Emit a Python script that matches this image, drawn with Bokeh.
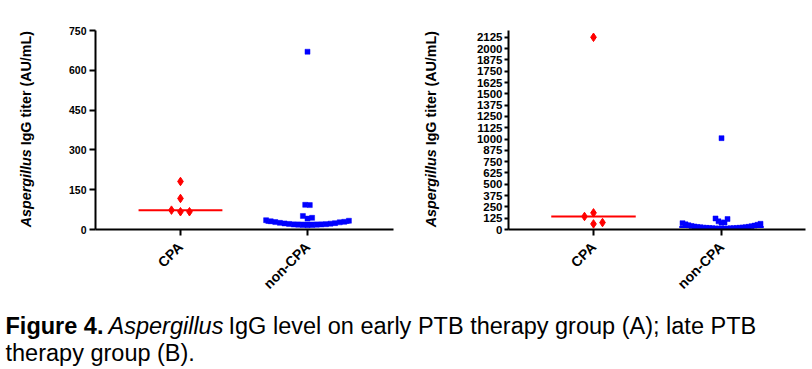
import numpy as np
from bokeh.plotting import figure
from bokeh.layouts import row, column
from bokeh.models import Range1d, FixedTicker, Label
from bokeh.embed import file_html
from bokeh.resources import INLINE

# ---------------- data ----------------
groups = ["CPA", "non-CPA"]

early_cpa = [181, 117, 73, 67, 67]
early_noncpa = [670, 93, 92, 51, 44, 41, 35, 33, 31, 29, 28, 27, 25, 24, 23,
                22, 21, 20, 19, 19, 18, 18, 17, 17, 16]

late_cpa = [2125, 184, 144, 77, 62]
late_noncpa = [1010, 122, 116, 90, 78, 75, 70, 63, 57, 52, 47, 43, 39, 36, 33,
               30, 28, 26, 24, 22, 20, 19, 18, 17, 16, 15, 14, 13, 12, 11, 10, 9, 8]

early_yticks = [0, 150, 300, 450, 600, 750]
late_yticks = list(range(0, 2126, 125))

y_label_italic = "Aspergillus"
y_label_rest = "IgG titer (AU/mL)"

caption_bold = "Figure 4."
caption_italic = "Aspergillus"
caption_rest1 = "IgG level on early PTB therapy group (A); late PTB"
caption_line2 = "therapy group (B)."

FONT = "Liberation Sans"
RED = "#ff0000"
BLUE = "#0000ff"

TOP = 30
FRAME_H = 199
BOTTOM = 68
ROW_H = TOP + FRAME_H + BOTTOM


def swarm(values, bin_h, step):
    """GraphPad-like column scatter: values within a bin spread sideways."""
    v = np.sort(np.asarray(values, dtype=float))
    offs = np.zeros(len(v))
    i = 0
    while i < len(v):
        j = i
        while j < len(v) and v[j] - v[i] < bin_h:
            j += 1
        n = j - i
        for k in range(n):
            if n % 2 == 1:
                m = (k + 1) // 2
                sgn = 1 if k % 2 == 1 else -1
                off = sgn * m
            else:
                m = k // 2 + 0.5
                sgn = 1 if k % 2 == 0 else -1
                off = sgn * m
            offs[i + k] = off * step
        i = j
    return v, offs


def blank(width, height):
    f = figure(width=width, height=height, x_range=Range1d(0, width),
               y_range=Range1d(0, height), min_border=0, title=None,
               x_axis_location=None, y_axis_location=None,
               toolbar_location=None, output_backend="svg")
    f.grid.visible = False
    f.outline_line_color = None
    return f


def ylabel_fig(width, cx):
    # frame matches the neighbouring panel's frame (row aligns frames)
    f = figure(frame_width=width, frame_height=FRAME_H, title=None,
               x_range=Range1d(0, width), y_range=Range1d(0, FRAME_H),
               min_border_left=0, min_border_right=0,
               min_border_top=TOP, min_border_bottom=BOTTOM,
               x_axis_location=None, y_axis_location=None,
               toolbar_location=None, output_backend="svg")
    f.grid.visible = False
    f.outline_line_color = None
    fs = 14.3
    y0 = 2.3
    w_italic = 5.446 * fs
    space = 0.278 * fs
    f.add_layout(Label(x=cx, y=y0, text=y_label_italic, angle=np.pi / 2,
                       text_font=FONT, text_font_style="bold italic",
                       text_font_size=f"{fs}px", text_align="left",
                       text_baseline="middle", text_color="black"))
    f.add_layout(Label(x=cx, y=y0 + w_italic + space, text=y_label_rest,
                       angle=np.pi / 2, text_font=FONT, text_font_style="bold",
                       text_font_size=f"{fs}px", text_align="left",
                       text_baseline="middle", text_color="black"))
    return f


def make_panel(cpa, noncpa, ymax, yticks, frame_w, border_l, border_r, xr,
               tick_font, tick_out, standoff, cpa_px, non_px, cpa_bin_px, non_bin_px):
    p = figure(frame_width=frame_w, frame_height=FRAME_H, title=None,
               x_range=Range1d(*xr), y_range=Range1d(0, ymax),
               min_border_left=border_l, min_border_right=border_r,
               min_border_top=TOP, min_border_bottom=BOTTOM,
               toolbar_location=None, output_backend="svg")
    ppu_x = frame_w / (xr[1] - xr[0])
    ppu_y = FRAME_H / ymax
    p.grid.visible = False
    p.outline_line_color = None

    half = 0.33
    for gi, vals, col in [(0, cpa, RED), (1, noncpa, BLUE)]:
        med = float(np.median(vals))
        p.line([gi - half, gi + half], [med, med], line_color=col, line_width=2)

    y, off = swarm(cpa, cpa_bin_px / ppu_y, cpa_px / ppu_x)
    p.scatter(0 + off, y, marker="diamond", size=8.5, fill_color=RED,
              line_color=RED, line_width=1)
    y, off = swarm(noncpa, non_bin_px / ppu_y, non_px / ppu_x)
    p.scatter(1 + off, y, marker="square", size=5, fill_color=BLUE,
              line_color=BLUE, line_width=0.5)

    for ax in (p.xaxis, p.yaxis):
        ax.axis_line_width = 2
        ax.axis_line_color = "black"
        ax.major_tick_line_width = 2
        ax.major_tick_in = 0
        ax.minor_tick_line_color = None
        ax.major_label_text_font = FONT
        ax.major_label_text_font_style = "bold"
        ax.major_label_text_color = "black"

    p.yaxis.ticker = FixedTicker(ticks=yticks)
    p.yaxis.major_tick_out = tick_out
    p.yaxis.major_label_standoff = standoff
    p.yaxis.major_label_text_font_size = tick_font

    p.xaxis.ticker = FixedTicker(ticks=[0, 1])
    p.xaxis.major_label_overrides = {0: groups[0], 1: groups[1]}
    p.xaxis.major_label_orientation = np.pi / 4
    p.xaxis.major_tick_out = 6
    p.xaxis.major_label_standoff = 9
    p.xaxis.major_label_text_font_size = "14px"
    return p


lab1 = ylabel_fig(40, 25)
p1 = make_panel(early_cpa, early_noncpa, 750, early_yticks,
                frame_w=298, border_l=55, border_r=7, xr=(-0.669, 1.677),
                tick_font="10.5px", tick_out=6, standoff=3,
                cpa_px=9, non_px=4.6, cpa_bin_px=9, non_bin_px=6)
lab2 = ylabel_fig(40, 30)
p2 = make_panel(late_cpa, late_noncpa, 2200, late_yticks,
                frame_w=297, border_l=68, border_r=7, xr=(-0.664, 1.656),
                tick_font="11.5px", tick_out=4, standoff=2,
                cpa_px=9, non_px=3, cpa_bin_px=9, non_bin_px=6)

# caption
cap_w, cap_h = 812, 369 - ROW_H
p3 = blank(cap_w, cap_h)
cfs = 23.5
pieces = [
    (5, cap_h - 25, caption_bold, "bold"),
    (108, cap_h - 25, caption_italic, "italic"),
    (228, cap_h - 25, caption_rest1, "normal"),
    (5, cap_h - 52, caption_line2, "normal"),
]
for x, y, t, st in pieces:
    p3.add_layout(Label(x=x, y=y, text=t, text_font=FONT, text_font_style=st,
                        text_font_size=f"{cfs}px", text_align="left",
                        text_baseline="alphabetic", text_color="black"))

layout = column(row(lab1, p1, lab2, p2, spacing=0), p3, spacing=0)

open("out.html", "w").write(file_html(layout, INLINE))
